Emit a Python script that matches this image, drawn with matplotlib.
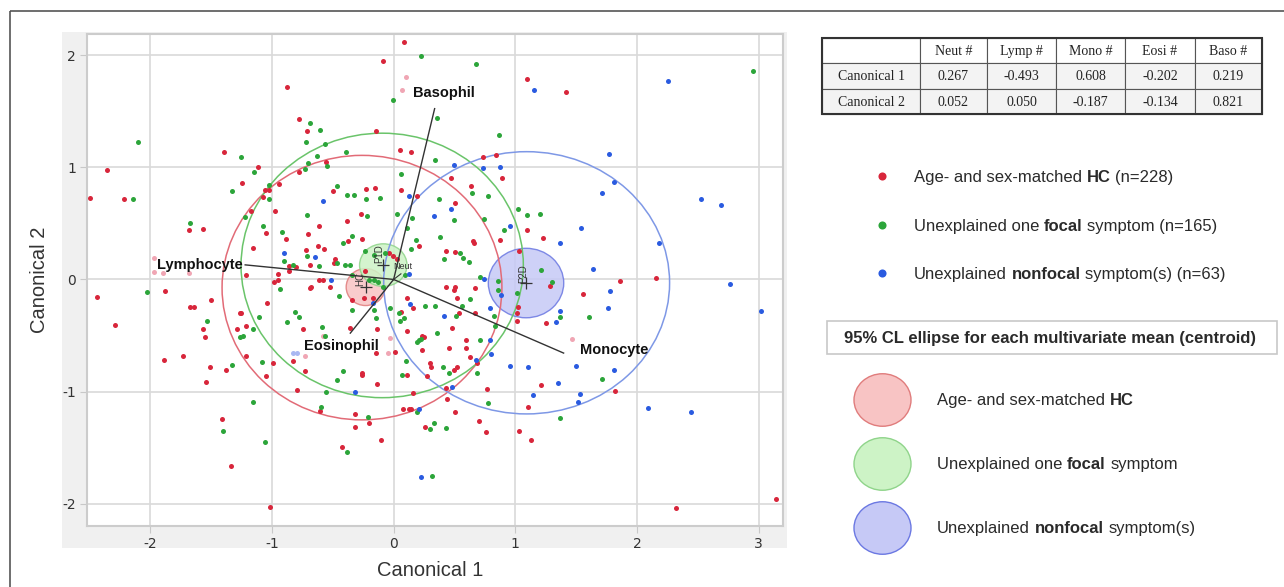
import matplotlib
matplotlib.use("Agg")
import matplotlib.pyplot as plt
import numpy as np
from matplotlib.patches import Ellipse, Rectangle

plt.rcParams["font.family"] = ["Liberation Sans", "DejaVu Sans"]
plt.rcParams["axes.unicode_minus"] = False

# canonical scores (Canonical 1, Canonical 2)
hc = np.array([
    (-0.876, 1.714), (-0.775, 1.435), (-0.712, 1.321), (-1.394, 1.134), (-2.355, 0.979),
    (-1.114, 1.004), (-1.246, 0.857), (-0.939, 0.848), (-0.777, 0.959), (-2.492, 0.729),
    (-2.219, 0.714), (-1.054, 0.798), (-1.021, 0.798), (-1.073, 0.732),
    (0.085, 2.122), (-0.090, 1.953), (1.099, 1.786), (-0.142, 1.328), (0.055, 1.158),
    (0.145, 1.134), (0.737, 1.089), (0.844, 1.110), (-0.559, 1.048), (0.468, 0.908),
    (0.891, 0.908), (0.636, 0.830), (-0.495, 0.786), (-0.227, 0.804), (-0.153, 0.813),
    (0.063, 0.795), (0.192, 0.747), (0.504, 0.679), (1.417, 1.670),
    (-1.172, 0.607), (-0.978, 0.607), (-1.684, 0.438), (-1.566, 0.453), (-1.052, 0.414),
    (-0.882, 0.363), (-0.707, 0.408), (-1.155, 0.283), (-0.723, 0.262), (-0.857, 0.116),
    (-0.805, 0.111), (-0.860, 0.078), (-0.953, 0.051), (-1.210, 0.039), (-0.986, -0.023),
    (-0.950, -0.009), (-0.690, -0.077), (-2.437, -0.157), (-1.882, -0.101), (-1.500, -0.184),
    (-1.676, -0.246), (-1.640, -0.250), (-1.038, -0.214), (-1.265, -0.295), (-1.251, -0.300),
    (-2.287, -0.404), (-1.569, -0.440), (-1.287, -0.443), (-1.210, -0.413), (-1.553, -0.512),
    (-1.728, -0.681), (-1.890, -0.717), (-1.210, -0.679), (-0.991, -0.747), (-0.827, -0.729),
    (-1.509, -0.780), (-1.375, -0.809), (-1.046, -0.866),
    (-0.616, 0.479), (-0.383, 0.518), (-0.265, 0.587), (-0.378, 0.339), (-0.260, 0.361),
    (-0.624, 0.301), (-0.569, 0.271), (-0.485, 0.185), (-0.493, 0.146), (-0.684, 0.131),
    (-0.616, -0.003), (-0.580, -0.003), (-0.676, -0.068), (-0.520, -0.068), (-0.342, -0.181),
    (-0.247, -0.166), (-0.173, -0.166), (-0.041, 0.236), (-0.005, 0.205), (0.028, 0.182),
    (-0.233, 0.071), (0.205, 0.295), (0.430, 0.250), (0.501, 0.241), (0.649, 0.339),
    (0.657, 0.328), (0.427, -0.071), (0.493, -0.092), (0.507, -0.071), (0.671, -0.077),
    (1.096, 0.438), (1.027, 0.250), (0.107, -0.170), (0.156, -0.255), (0.061, -0.291),
    (0.521, -0.166), (0.537, -0.295), (0.671, -0.300), (1.022, -0.250), (1.014, -0.300),
    (1.016, -0.369), (-0.136, -0.440), (-0.358, -0.434), (0.110, -0.458), (0.233, -0.509),
    (0.252, -0.514), (0.480, -0.434), (0.595, -0.538), (0.452, -0.613), (0.592, -0.613),
    (0.630, -0.688), (0.685, -0.747), (0.236, -0.634), (0.008, -0.643), (0.296, -0.747),
    (0.310, -0.777), (0.521, -0.777), (0.499, -0.806), (-0.260, -0.836), (-0.745, -0.443),
    (-0.142, -0.657), (0.110, -0.851), (0.874, 0.354),
    (1.227, 0.366), (1.863, -0.012), (2.159, 0.015), (1.556, -0.131), (1.288, -0.059),
    (1.252, -0.387),
    (-1.541, -0.913), (-0.791, -0.985), (-1.410, -1.247), (-1.334, -1.663), (-1.019, -2.027),
    (-0.731, -0.821),
    (-0.263, -0.851), (-0.136, -0.929), (0.274, -0.860), (0.427, -0.973), (0.439, -1.068),
    (0.507, -1.179), (0.764, -0.979), (1.214, -0.946), (1.104, -1.137), (1.129, -1.429),
    (1.033, -1.351), (0.756, -1.357), (0.698, -1.259), (0.159, -1.014), (0.077, -1.157),
    (0.129, -1.157), (0.145, -1.152), (-0.320, -1.199), (-0.608, -1.172), (-0.205, -1.277),
    (-0.320, -1.318), (-0.107, -1.429), (-0.422, -1.496), (0.255, -1.315),
    (1.819, -0.994), (2.320, -2.038), (3.145, -1.955),
])

focal = np.array([
    (-2.104, 1.223), (-0.690, 1.393), (-0.717, 1.223), (-1.257, 1.089), (-1.150, 0.959),
    (-1.331, 0.789), (-1.021, 0.843), (-1.021, 0.718), (-0.707, 1.039), (-0.726, 0.986),
    (-2.141, 0.718),
    (0.225, 1.997), (0.674, 1.923), (-0.002, 1.598), (0.357, 1.441), (-0.608, 1.334),
    (-0.567, 1.209), (0.866, 1.289), (-0.391, 1.140), (-0.629, 1.104), (-0.547, 1.015),
    (0.337, 1.063), (0.063, 0.944), (-0.465, 0.830), (-0.383, 0.754), (-0.329, 0.750),
    (-0.230, 0.714), (-0.112, 0.723), (0.370, 0.714), (0.641, 0.771), (0.776, 0.747),
    (1.019, 0.631), (2.950, 1.857),
    (-1.670, 0.506), (-1.224, 0.557), (-1.076, 0.479), (-0.915, 0.426), (-0.712, 0.571),
    (-0.901, 0.161), (-0.824, 0.125), (-0.709, 0.205), (-0.937, -0.083), (-2.030, -0.116),
    (-1.104, -0.336), (-0.808, -0.288), (-0.781, -0.339), (-0.876, -0.378), (-1.531, -0.375),
    (-1.155, -0.438), (-1.241, -0.503), (-1.260, -0.514), (-1.331, -0.759), (-1.085, -0.738),
    (-0.219, 0.563), (0.028, 0.587), (0.151, 0.548), (0.110, 0.459), (0.493, 0.533),
    (0.378, 0.375), (0.184, 0.354), (-0.420, 0.325), (-0.342, 0.390), (-0.238, 0.250),
    (-0.164, 0.220), (-0.068, 0.236), (-0.610, 0.122), (-0.465, 0.146), (-0.397, 0.125),
    (-0.356, 0.125), (-0.342, 0.042), (-0.200, -0.003), (-0.164, -0.003), (-0.128, -0.027),
    (-0.090, -0.063), (0.096, 0.042), (0.145, 0.271), (0.417, 0.182), (0.548, 0.236),
    (0.570, 0.191), (0.622, 0.155), (0.712, 0.018), (0.855, -0.018), (0.858, -0.092),
    (0.630, -0.175), (0.562, -0.235), (-0.452, -0.146), (-0.342, -0.271), (-0.159, -0.271),
    (-0.027, -0.255), (0.041, -0.300), (0.088, -0.345), (0.055, -0.375), (0.260, -0.235),
    (0.343, -0.235), (0.512, -0.330), (0.827, -0.330), (0.830, -0.413), (-0.567, -0.509),
    (-0.588, -0.425), (-0.416, -0.815), (-0.145, -0.345), (0.192, -0.554), (0.211, -0.538),
    (0.228, -0.532), (0.357, -0.479), (0.712, -0.538), (0.104, -0.726), (0.403, -0.782),
    (0.452, -0.836), (0.685, -0.836), (1.014, -0.121), (1.211, 0.087), (1.200, 0.587),
    (1.096, 0.578), (0.904, 0.444), (0.740, 0.539),
    (1.301, -0.024), (1.370, -0.333), (1.606, -0.336), (1.712, -0.889),
    (-1.159, -1.095), (-1.405, -1.348), (-1.057, -1.449),
    (-0.465, -0.896), (-0.556, -1.000), (0.069, -0.851), (-0.594, -1.134), (-0.214, -1.223),
    (0.189, -1.181), (0.334, -1.277), (0.302, -1.333), (0.427, -1.324), (0.776, -1.104),
    (-0.386, -1.541), (0.318, -1.755), (1.364, -1.238),
])

nonfocal = np.array([
    (1.156, 1.694), (0.496, 1.021), (0.735, 0.991), (0.874, 1.004), (0.123, 0.747),
    (-0.578, 0.700), (0.472, 0.631),
    (2.251, 1.774), (1.772, 1.116), (1.813, 0.870), (1.709, 0.771), (2.523, 0.721),
    (2.693, 0.661), (-0.904, 0.236),
    (-0.643, 0.196), (-0.512, -0.003), (0.334, 0.563), (0.953, 0.479), (0.743, 0.006),
    (0.123, 0.045), (0.137, -0.220), (0.417, -0.324), (0.792, -0.541), (0.677, -0.717),
    (0.953, -0.768), (1.104, -0.779), (0.797, -0.666), (0.795, -0.255), (0.879, -0.137),
    (-0.173, -0.214),
    (1.540, 0.462), (1.370, 0.325), (2.183, 0.325), (1.635, 0.089), (1.775, -0.104),
    (1.762, -0.255), (1.364, -0.286), (1.337, -0.380), (2.761, -0.038), (3.021, -0.286),
    (1.501, -0.768), (1.813, -0.804),
    (-0.315, -1.000), (0.482, -0.958), (0.205, -1.152), (1.142, -1.029), (0.222, -1.762),
    (1.353, -0.922), (1.531, -1.020), (1.518, -1.092), (2.087, -1.143), (2.444, -1.184),
])

# rows drawn pale in the original (excluded)
excluded_hc = np.array([
    (0.099, 1.804), (0.069, 1.694), (-1.969, 0.188), (-1.966, 0.066), (-1.898, 0.054),
    (-1.684, 0.057), (-0.726, -0.679), (1.468, -0.532), (-0.580, -0.503), (-0.027, -0.523),
    (-0.049, -0.657),
])
excluded_nf = np.array([(-0.830, -0.657), (-0.791, -0.657)])

# 95% density ellipses and 95% CL ellipses of the means: HC, P1D, P2D
group_tags = ["HC", "P1D", "P2D"]
dens_cx = [-0.26, -0.094, 1.093]
dens_cy = [-0.073, 0.125, -0.03]
dens_rx = [1.15, 1.16, 1.175]
dens_ry = [1.18, 1.18, 1.17]
mean_cx = [-0.23, -0.085, 1.088]
mean_cy = [-0.068, 0.128, -0.032]
mean_rx = [0.16, 0.195, 0.31]
mean_ry = [0.165, 0.19, 0.31]

# biplot rays
ray_names = ["Lymphocyte", "Basophil", "Eosinophil", "Monocyte"]
ray_x = [-1.22, 0.337, -0.356, 1.397]
ray_y = [0.13, 1.524, -0.479, -0.657]

# coefficient table
coef_cols = ["Neut #", "Lymp #", "Mono #", "Eosi #", "Baso #"]
coef_rows = ["Canonical 1", "Canonical 2"]
canon1 = [0.267, -0.493, 0.608, -0.202, 0.219]
canon2 = [0.052, 0.050, -0.187, -0.134, 0.821]

legend_pts = [
    [("Age- and sex-matched", "normal"), ("HC", "bold"), ("(n=228)", "normal")],
    [("Unexplained one", "normal"), ("focal", "bold"), ("symptom (n=165)", "normal")],
    [("Unexplained", "normal"), ("nonfocal", "bold"), ("symptom(s) (n=63)", "normal")],
]
legend_ell = [
    [("Age- and sex-matched", "normal"), ("HC", "bold")],
    [("Unexplained one", "normal"), ("focal", "bold"), ("symptom", "normal")],
    [("Unexplained", "normal"), ("nonfocal", "bold"), ("symptom(s)", "normal")],
]

pt_colors = ["#d8263b", "#2ca53a", "#2a5be0"]
dens_colors = ["#e26b77", "#6ac46a", "#7e98e6"]
mean_face = ["#f8c4c4", "#cdf3c6", "#c6c9f6"]
mean_edge = ["#e07c7c", "#8fd48a", "#6b78e2"]

W, H = 1284, 587
fig = plt.figure(figsize=(W / 100, H / 100), dpi=100)

# pixel-space overlay for frame, background panel, table and legend
bg = fig.add_axes([0, 0, 1, 1])
bg.set_xlim(0, W)
bg.set_ylim(H, 0)
bg.axis("off")
bg.add_patch(Rectangle((10, 11), W, H, fill=False, ec="#555555", lw=1.2))
bg.add_patch(Rectangle((62, 32), 725, 516, fc="#f0f0f0", ec="none"))

ax = fig.add_axes([87 / W, 1 - 526 / H, 696 / W, 492 / H])
ax.set_xlim(-2.52, 3.20)
ax.set_ylim(-2.20, 2.19)
ax.set_xticks([-2, -1, 0, 1, 2, 3])
ax.set_yticks([-2, -1, 0, 1, 2])
ax.grid(color="#d9d9d9", lw=1.2)
ax.set_axisbelow(True)
ax.tick_params(length=5, color="#c8c8c8", labelsize=10, labelcolor="#333333", pad=3)
for lab in ax.get_xticklabels() + ax.get_yticklabels():
    lab.set_family("DejaVu Sans")
for s in ax.spines.values():
    s.set_color("#cccccc")
    s.set_linewidth(1.5)
ax.set_xlabel("Canonical 1", fontsize=14.5, color="#333333")
ax.set_ylabel("Canonical 2", fontsize=14.5, color="#333333")
ax.xaxis.set_label_coords((430 - 87) / 696, (526 - 570) / 492)
ax.yaxis.set_label_coords((40 - 87) / 696, 0.5)
ax.xaxis.label.set_va("center")
ax.yaxis.label.set_va("center")

for i in range(3):
    ax.add_patch(Ellipse((mean_cx[i], mean_cy[i]), 2 * mean_rx[i], 2 * mean_ry[i],
                         fc=mean_face[i], ec=mean_edge[i], lw=1.0, alpha=0.85, zorder=2))
    ax.add_patch(Ellipse((dens_cx[i], dens_cy[i]), 2 * dens_rx[i], 2 * dens_ry[i],
                         fill=False, ec=dens_colors[i], lw=1.1, zorder=2.5))

ax.scatter(excluded_hc[:, 0], excluded_hc[:, 1], s=13, color="#f0a6b4", lw=0, zorder=3)
ax.scatter(excluded_nf[:, 0], excluded_nf[:, 1], s=13, color="#a9b8f2", lw=0, zorder=3)
for pts, c in zip([hc, focal, nonfocal], pt_colors):
    ax.scatter(pts[:, 0], pts[:, 1], s=13, color=c, lw=0, zorder=3)

# rays from the grand mean
label_off = [(-1.5, 0, "right"), (7, 11.5, "center"), (-6.5, -9.5, "center"), (11.5, 2, "left")]
for name, x, y, (dx, dy, ha) in zip(ray_names, ray_x, ray_y, label_off):
    ax.plot([0, x], [0, y], color="#333333", lw=1.0, zorder=4)
    ax.annotate(name, (x, y), xytext=(dx, dy), textcoords="offset points",
                ha=ha, va="center", fontsize=10.5, fontweight="bold", color="#111111", zorder=5)
ax.plot([0, 0.06], [0, 0.05], color="#333333", lw=0.8, zorder=4)
ax.text(0.0, 0.095, "Neut", fontsize=6.5, color="#333333", zorder=5)

tag_off = [(-4, 6), (-3, 8), (-2, 7)]
for i, tag in enumerate(group_tags):
    ax.plot(mean_cx[i], mean_cy[i], marker="+", ms=8, mew=0.9, color="#333333", zorder=4)
    ax.annotate(tag, (mean_cx[i], mean_cy[i]), xytext=tag_off[i], textcoords="offset points",
                rotation=90, ha="center", va="center", fontsize=7, color="#333333", zorder=5)

# coefficient table
col_edges = [822, 920, 987, 1056, 1125, 1195, 1262]
row_edges = [38, 63, 89, 114]
cells = [[""] + coef_cols,
         [coef_rows[0]] + ["%.3f" % v for v in canon1],
         [coef_rows[1]] + ["%.3f" % v for v in canon2]]
for r in range(3):
    for c in range(6):
        x0, x1 = col_edges[c], col_edges[c + 1]
        y0, y1 = row_edges[r], row_edges[r + 1]
        bg.add_patch(Rectangle((x0, y0), x1 - x0, y1 - y0,
                               fc="white" if r == 0 else "#f3f3f3", ec="#555555", lw=0.8))
        bg.text((x0 + x1) / 2, (y0 + y1) / 2 + 1, cells[r][c], ha="center", va="center",
                fontsize=10, family="Liberation Serif", color="#222222")
bg.add_patch(Rectangle((col_edges[0], row_edges[0]), col_edges[-1] - col_edges[0],
                       row_edges[-1] - row_edges[0], fill=False, ec="#333333", lw=1.5))

renderer = fig.canvas.get_renderer()
space = 0.278 * 12 * 100 / 72


def rich(x, y, parts, size=12):
    # y is the visual centre; draw on a shared baseline
    for s, w in parts:
        t = bg.text(x, y + 6, s, fontsize=size, fontweight=w, ha="left", va="baseline",
                    color="#2a2a2a")
        x += t.get_window_extent(renderer=renderer).width + space


for i, parts in enumerate(legend_pts):
    y = [176, 225, 273][i]
    bg.scatter([882], [y], s=34, color=pt_colors[i], lw=0)
    rich(914, y, parts)

bg.add_patch(Rectangle((827, 321), 450, 33, fc="white", ec="#c8c8c8", lw=1.2))
bg.text(1050, 338.5, "95% CL ellipse for each multivariate mean (centroid)", ha="center",
        va="center", fontsize=12, fontweight="bold", color="#2a2a2a")

for i, parts in enumerate(legend_ell):
    y = [400, 464, 528][i]
    bg.add_patch(Ellipse((882.5, y), 57, 52.5, fc=mean_face[i], ec=mean_edge[i], lw=1.0))
    rich(937, y - 1, parts)

fig.savefig("out.png", dpi=100)
